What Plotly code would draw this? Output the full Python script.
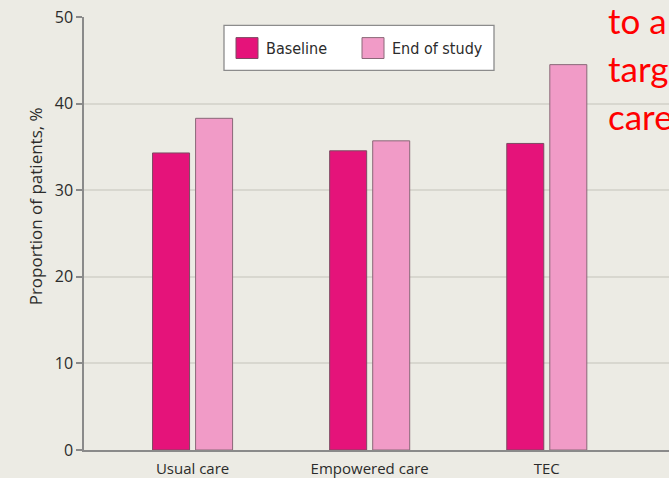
import plotly.graph_objects as go

categories = ["Usual care", "Empowered care", "TEC"]
baseline = [34.3, 34.55, 35.4]
end_of_study = [38.3, 35.7, 44.5]
y_ticks = [0, 10, 20, 30, 40, 50]
series_names = ["Baseline", "End of study"]
side_text = ["to a", "targ", "care"]

W, H = 669, 478
L, R, T, B = 84, 0, 17.3, 25.7
pw, ph = W - L - R, H - T - B

def px(x):
    return (x - L) / pw

def py(y):
    return (H - B - y) / ph

c_base = "#E5137A"
c_end = "#F19BC7"
bg = "#ECEBE4"

fig = go.Figure()
fig.add_trace(go.Bar(x=categories, y=baseline, name=series_names[0],
                     marker=dict(color=c_base, line=dict(color="#7d4a62", width=1)),
                     showlegend=False))
fig.add_trace(go.Bar(x=categories, y=end_of_study, name=series_names[1],
                     marker=dict(color=c_end, line=dict(color="#8a6878", width=1)),
                     showlegend=False))

shapes = []
annotations = []
# legend box
shapes.append(dict(type="rect", xref="paper", yref="paper",
                   x0=px(224), x1=px(494), y0=py(71), y1=py(25.7),
                   fillcolor="white", line=dict(color="#8c8c8c", width=1.3)))
for (sx, tx, name, col, lc) in [(236, 264, series_names[0], c_base, "#7d4a62"),
                                (362, 390, series_names[1], c_end, "#8a6878")]:
    shapes.append(dict(type="rect", xref="paper", yref="paper",
                       x0=px(sx), x1=px(sx + 22), y0=py(59), y1=py(38),
                       fillcolor=col, line=dict(color=lc, width=1)))
    annotations.append(dict(text=name, xref="paper", yref="paper",
                            x=px(tx), y=py(48.5), xanchor="left", yanchor="middle",
                            showarrow=False,
                            font=dict(family="Liberation Sans Narrow, DejaVu Sans Condensed, sans-serif",
                                      size=16, color="#2b2b2b")))
# y-axis title
annotations.append(dict(text="Proportion of patients, %", xref="paper", yref="paper",
                        x=px(35), y=py(207.5), textangle=-90, showarrow=False,
                        xanchor="center", yanchor="middle",
                        font=dict(family="Open Sans", size=17, color="#2b2b2b")))
# red side text
for i, t in enumerate(side_text):
    annotations.append(dict(text=t, xref="paper", yref="paper",
                            x=px(606), y=py(20 + 48.5 * i), xanchor="left", yanchor="middle",
                            showarrow=False,
                            font=dict(family="Lato", size=35, color="#FF0000")))

fig.update_layout(
    width=W, height=H,
    margin=dict(l=L, r=R, t=T, b=B, pad=0),
    paper_bgcolor=bg, plot_bgcolor=bg,
    barmode="group", bargap=0.514, bargroupgap=0.14,
    shapes=shapes, annotations=annotations,
    showlegend=False,
    xaxis=dict(type="category", range=[-0.613, 2.69], showgrid=False,
               showline=True, linecolor="#8a8a8a", linewidth=1.5,
               ticks="", ticklabelstandoff=4,
               tickfont=dict(family="Open Sans", size=15, color="#2b2b2b"),
               zeroline=False),
    yaxis=dict(range=[0, 50], tickvals=y_ticks, showgrid=True, gridcolor="#D8D7CF",
               gridwidth=1.5, showline=True, linecolor="#8a8a8a", linewidth=1.5,
               ticks="outside", ticklen=6, tickcolor="#8a8a8a", tickwidth=1.5,
               tickfont=dict(family="Open Sans", size=16, color="#2b2b2b"),
               zeroline=False),
)

fig.write_html("out.html")
